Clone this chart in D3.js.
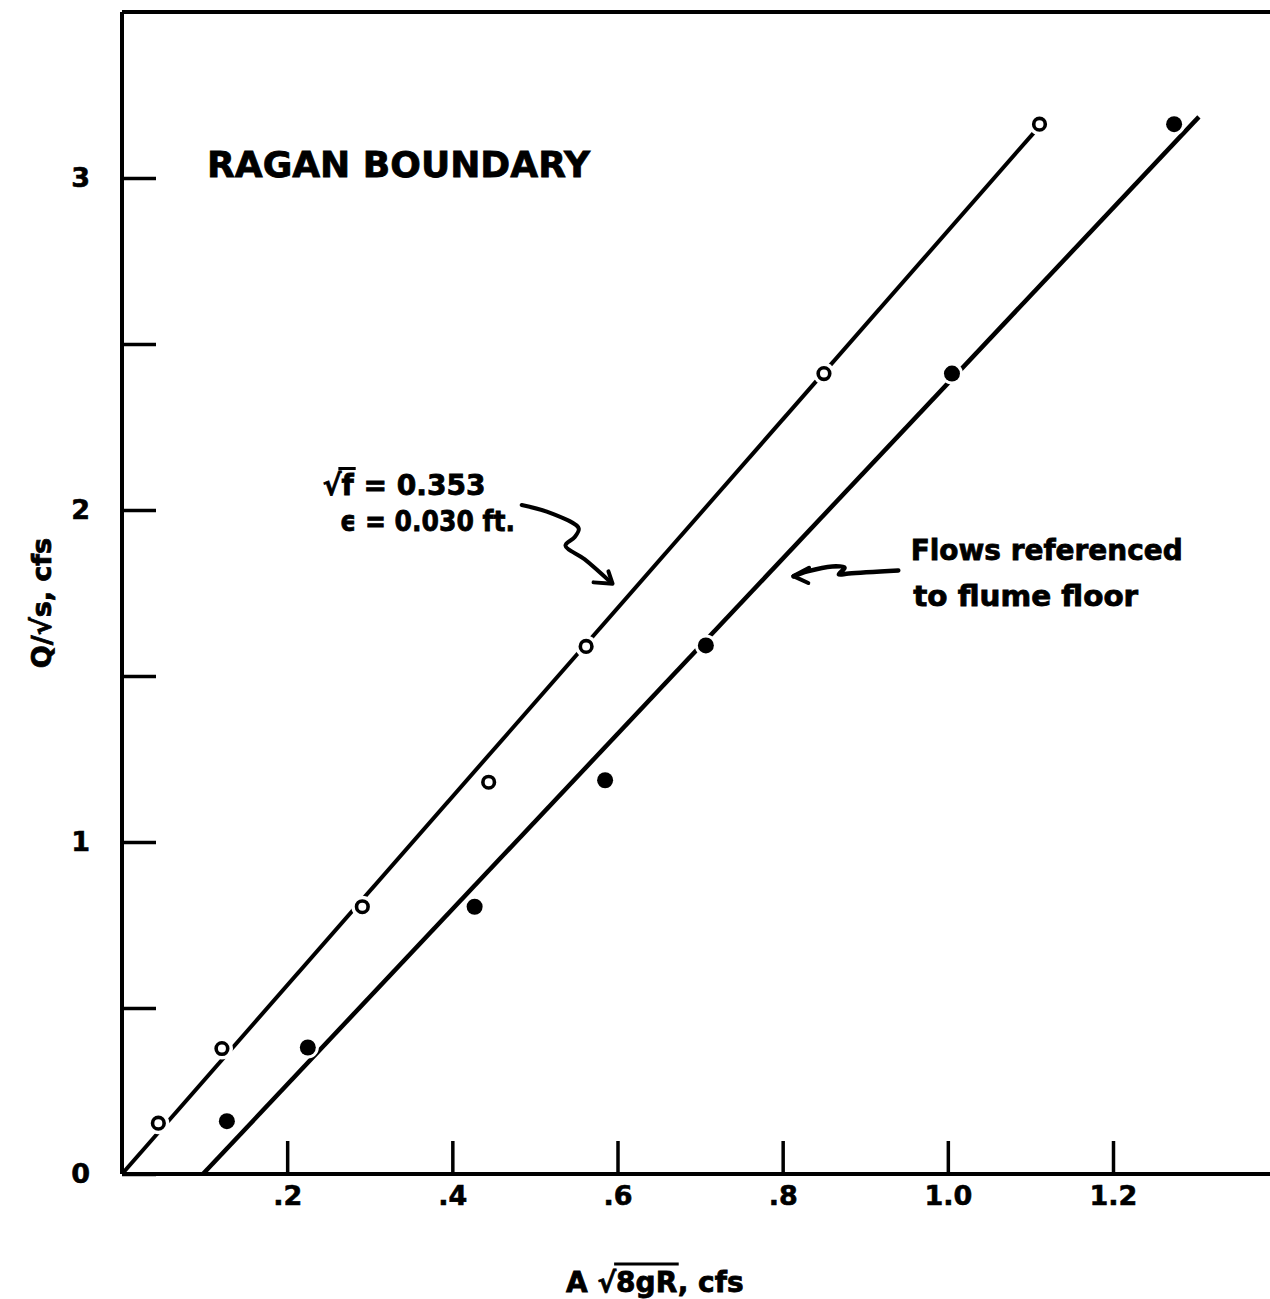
<!DOCTYPE html>
<html>
<head>
<meta charset="utf-8">
<script src="https://cdn.jsdelivr.net/npm/d3@7"></script>
<style>
  body { margin: 0; background: #fff; }
  text { font-family: "DejaVu Sans", sans-serif; font-weight: bold; fill: #000; stroke: #000; stroke-width: 0.8px; }
</style>
</head>
<body>
<svg id="chart" width="1270" height="1299"></svg>
<script>
// readings (x = A sqrt(8gR), y = Q/sqrt(s), both cfs)
var openX  = [0.044, 0.121, 0.291, 0.444, 0.562, 0.850, 1.111];
var openY  = [0.153, 0.378, 0.805, 1.180, 1.589, 2.411, 3.162];
var solidX = [0.127, 0.225, 0.427, 0.585, 0.707, 1.005, 1.274];
var solidY = [0.159, 0.381, 0.805, 1.186, 1.592, 2.411, 3.162];

// fitted lines (end points)
var fitOpenX  = [0.0, 1.104];
var fitOpenY  = [0.0, 3.136];
var fitSolidX = [0.098, 1.304];
var fitSolidY = [0.0, 3.184];

var xTicks = [0.2, 0.4, 0.6, 0.8, 1.0, 1.2];
var xTickLabels = [".2", ".4", ".6", ".8", "1.0", "1.2"];
var yTicks = [0, 0.5, 1, 1.5, 2, 2.5, 3];
var yTickLabels = ["0", "", "1", "", "2", "", "3"];

var width = 1270, height = 1299;

var x = d3.scaleLinear().domain([0, 1.2]).range([122, 1113]);
var y = d3.scaleLinear().domain([0, 3]).range([1174, 178]);

var svg = d3.select("#chart");

// top frame line
svg.append("line")
  .attr("x1", x(0)).attr("x2", width)
  .attr("y1", 12).attr("y2", 12)
  .attr("stroke", "#000").attr("stroke-width", 4);

var xAxis = d3.axisBottom(x)
  .tickValues(xTicks)
  .tickSize(-33)
  .tickSizeOuter(0)
  .tickPadding(12)
  .tickFormat(function(d, i) { return xTickLabels[i]; });

var yAxis = d3.axisLeft(y)
  .tickValues(yTicks)
  .tickSize(-34)
  .tickSizeOuter(0)
  .tickPadding(32)
  .tickFormat(function(d, i) { return yTickLabels[i]; });

var gx = svg.append("g")
  .attr("class", "x axis")
  .attr("transform", "translate(0," + y(0) + ")")
  .call(xAxis);
gx.select(".domain").attr("d", "M" + x(0) + ",0H" + width);

var gy = svg.append("g")
  .attr("class", "y axis")
  .attr("transform", "translate(" + x(0) + ",0)")
  .call(yAxis);
gy.select(".domain").attr("d", "M0," + y(0) + "V12");

svg.selectAll(".axis .domain").attr("stroke", "#000").attr("stroke-width", 4);
svg.selectAll(".axis .tick line").attr("stroke", "#000").attr("stroke-width", 3.5);
svg.selectAll(".axis .tick text")
  .style("font-family", "'DejaVu Sans', sans-serif")
  .style("font-weight", "bold")
  .style("font-size", "27px")
  .style("stroke", "#000").style("stroke-width", "0.6px");

// fitted lines
var line = d3.line()
  .x(function(d) { return x(d[0]); })
  .y(function(d) { return y(d[1]); });

svg.append("path")
  .attr("d", line(d3.zip(fitOpenX, fitOpenY)))
  .attr("fill", "none").attr("stroke", "#000").attr("stroke-width", 4);
svg.append("path")
  .attr("d", line(d3.zip(fitSolidX, fitSolidY)))
  .attr("fill", "none").attr("stroke", "#000").attr("stroke-width", 4.5);

// white halos so lines break at points
var openPts = d3.zip(openX, openY);
var solidPts = d3.zip(solidX, solidY);

svg.selectAll(".halo")
  .data(openPts.concat(solidPts))
  .enter().append("circle")
  .attr("cx", function(d) { return x(d[0]); })
  .attr("cy", function(d) { return y(d[1]); })
  .attr("r", 11)
  .attr("fill", "#fff");

svg.selectAll(".open")
  .data(openPts)
  .enter().append("circle")
  .attr("cx", function(d) { return x(d[0]); })
  .attr("cy", function(d) { return y(d[1]); })
  .attr("r", 5.8)
  .attr("fill", "#fff")
  .attr("stroke", "#000")
  .attr("stroke-width", 3.6);

svg.selectAll(".solid")
  .data(solidPts)
  .enter().append("circle")
  .attr("cx", function(d) { return x(d[0]); })
  .attr("cy", function(d) { return y(d[1]); })
  .attr("r", 8)
  .attr("fill", "#000");

// title
svg.append("text")
  .attr("x", 207).attr("y", 177)
  .attr("textLength", 383).attr("lengthAdjust", "spacingAndGlyphs")
  .style("font-size", "36px")
  .text("RAGAN BOUNDARY");

// annotations, placed in data units
var note1 = svg.append("g");
note1.append("text")
  .attr("x", x(0.243)).attr("y", y(2.045))
  .attr("textLength", 163).attr("lengthAdjust", "spacingAndGlyphs")
  .style("font-size", "29px")
  .text("\u221Af = 0.353");
note1.append("line")
  .attr("x1", x(0.262)).attr("x2", x(0.283))
  .attr("y1", y(2.125)).attr("y2", y(2.125))
  .attr("stroke", "#000").attr("stroke-width", 3);
note1.append("text")
  .attr("x", x(0.264)).attr("y", y(1.936))
  .attr("textLength", 175).attr("lengthAdjust", "spacingAndGlyphs")
  .style("font-size", "29px")
  .text("\u03F5 = 0.030 ft.");

var arrowLine = d3.line()
  .x(function(d) { return x(d[0]); })
  .y(function(d) { return y(d[1]); })
  .curve(d3.curveCatmullRom);

var arrow1 = [[0.484, 2.015], [0.520, 1.990], [0.553, 1.945], [0.548, 1.918], [0.537, 1.893], [0.560, 1.852], [0.592, 1.782]];
svg.append("path")
  .attr("d", arrowLine(arrow1))
  .attr("fill", "none").attr("stroke", "#000").attr("stroke-width", 4).attr("stroke-linecap", "round");
svg.append("path")
  .attr("d", d3.line().x(function(d) { return x(d[0]); }).y(function(d) { return y(d[1]); })(
    [[0.571, 1.782], [0.594, 1.778], [0.589, 1.815]]))
  .attr("fill", "none").attr("stroke", "#000").attr("stroke-width", 4)
  .attr("stroke-linecap", "round").attr("stroke-linejoin", "round");

svg.append("text")
  .attr("x", x(0.955)).attr("y", y(1.849))
  .attr("textLength", 272).attr("lengthAdjust", "spacingAndGlyphs")
  .style("font-size", "28px")
  .text("Flows referenced");
svg.append("text")
  .attr("x", x(0.958)).attr("y", y(1.711))
  .attr("textLength", 225).attr("lengthAdjust", "spacingAndGlyphs")
  .style("font-size", "28px")
  .text("to flume floor");

var arrow2 = [[0.940, 1.818], [0.880, 1.809], [0.868, 1.806], [0.875, 1.826], [0.860, 1.830], [0.830, 1.815], [0.813, 1.800]];
svg.append("path")
  .attr("d", arrowLine(arrow2))
  .attr("fill", "none").attr("stroke", "#000").attr("stroke-width", 4.5).attr("stroke-linecap", "round");
svg.append("path")
  .attr("d", d3.line().x(function(d) { return x(d[0]); }).y(function(d) { return y(d[1]); })(
    [[0.832, 1.826], [0.813, 1.801], [0.831, 1.780]]))
  .attr("fill", "none").attr("stroke", "#000").attr("stroke-width", 4)
  .attr("stroke-linecap", "round").attr("stroke-linejoin", "round");

// axis titles
var xt = svg.append("text")
  .attr("x", 566).attr("y", 1292)
  .style("font-size", "28px");
xt.append("tspan").text("A ");
xt.append("tspan").attr("class", "rad").text("\u221A");
xt.append("tspan").attr("class", "under").text("8gR");
xt.append("tspan").text(", cfs");

var n0 = xt.node();
var start = 3; // index of "8" in "A √8gR, cfs"
var sx = n0.getStartPositionOfChar(start).x;
var ex = n0.getEndPositionOfChar(start + 2).x;
svg.append("line")
  .attr("x1", sx - 2).attr("x2", ex + 1)
  .attr("y1", 1264).attr("y2", 1264)
  .attr("stroke", "#000").attr("stroke-width", 3);

svg.append("text")
  .attr("transform", "translate(51,603) rotate(-90)")
  .attr("text-anchor", "middle")
  .style("font-size", "27px")
  .text("Q/\u221As, cfs");
</script>
</body>
</html>
